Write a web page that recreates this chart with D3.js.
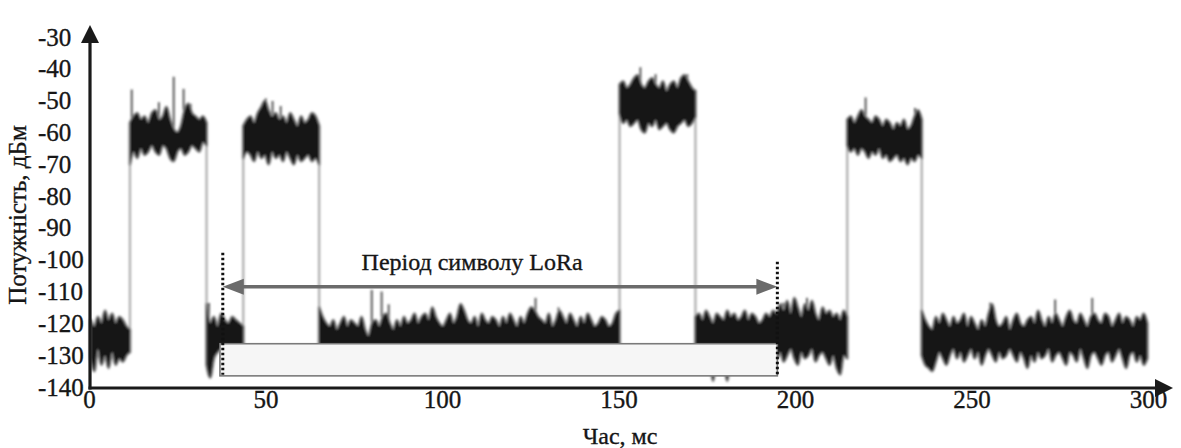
<!DOCTYPE html>
<html>
<head>
<meta charset="utf-8">
<script src="https://cdn.jsdelivr.net/npm/d3@7"></script>
<style>
  body { margin: 0; background: #fff; }
  svg text { font-family: "Liberation Serif", "Tinos", "Times New Roman", "DejaVu Serif", serif; fill: #161616; stroke: #161616; stroke-width: 0.35px; }
</style>
</head>
<body>
<div id="graph"></div>
<script>
// axis ticks
const tickY = [-30, -40, -50, -60, -70, -80, -90, -100, -110, -120, -130, -140];
const tickX = [0, 50, 100, 150, 200, 250, 300];

// segment boundaries, ms (noise / burst / noise / ...)
const edges = [0.5, 11.6, 33.3, 43.7, 65.2, 150.3, 171.8, 214.8, 235.9, 299.8];

// envelope of the trace, dBm, one value per ~1 ms inside each segment
const noise1Hi = [-119, -121, -118, -120, -116, -119, -117, -120, -118, -119, -121, -122];
const noise1Lo = [-131, -135, -128, -133, -130, -134, -129, -133, -131, -132, -130, -129];

const burst1Hi = [-57, -55, -54, -56, -55, -57, -54, -53, -56, -55, -52, -56, -59, -60, -58, -53, -51, -54, -55, -56, -55, -57];
const burst1Lo = [-70, -66, -68, -65, -67, -66, -64, -66, -67, -64, -65, -68, -69, -66, -65, -67, -66, -64, -65, -66, -63, -64];

const noise2Hi = [-114, -120, -118, -121, -117, -119, -120, -118, -119, -120, -121];
const noise2Lo = [-133, -137, -131, -129, -128, -128, -129, -128, -128, -129, -128];

const burst2Hi = [-58, -56, -55, -57, -54, -52, -50, -53, -55, -54, -56, -55, -57, -54, -56, -58, -55, -57, -56, -54, -55, -58];
const burst2Lo = [-68, -66, -67, -69, -66, -68, -67, -70, -66, -68, -67, -69, -66, -68, -70, -67, -69, -68, -67, -69, -68, -70];

const noise3Hi = [
  -115, -118, -120, -121, -119, -122, -120, -118, -121, -119,
  -120, -121, -118, -122, -124, -120, -119, -121, -118, -117,
  -120, -122, -119, -121, -118, -120, -119, -117, -120, -118,
  -117, -119, -115, -118, -120, -121, -119, -117, -120, -118,
  -114, -116, -119, -120, -118, -121, -117, -119, -120, -118,
  -119, -121, -118, -120, -117, -119, -121, -118, -120, -117,
  -115, -116, -118, -119, -120, -117, -121, -119, -116, -118,
  -120, -117, -119, -121, -118, -120, -117, -119, -121, -120,
  -118, -119, -121, -120, -117, -116];
const noise3Lo = [
  -129, -130, -128, -131, -129, -130, -128, -129, -130, -131,
  -129, -128, -130, -131, -129, -130, -128, -129, -131, -130,
  -128, -129, -130, -131, -129, -128, -130, -129, -131, -130,
  -129, -128, -130, -129, -131, -130, -128, -129, -130, -131,
  -129, -130, -128, -129, -131, -130, -129, -128, -130, -131,
  -129, -130, -128, -131, -129, -130, -128, -129, -130, -131,
  -128, -129, -130, -131, -129, -130, -128, -129, -131, -130,
  -129, -128, -130, -129, -131, -130, -128, -129, -130, -131,
  -129, -130, -128, -129, -130, -129];

const burst3Hi = [-45, -44, -46, -45, -43, -42, -45, -46, -44, -43, -45, -46, -44, -47, -45, -44, -46, -43, -42, -44, -46, -47];
const burst3Lo = [-54, -57, -56, -58, -57, -56, -59, -60, -57, -58, -56, -59, -58, -57, -59, -60, -58, -57, -56, -58, -57, -55];

const noise4Hi = [
  -118, -117, -119, -116, -118, -120, -117, -118, -119, -116,
  -118, -117, -119, -118, -116, -119, -117, -118, -120, -119,
  -117, -118, -116, -117, -114, -116, -113, -117, -112, -115,
  -118, -114, -116, -113, -117, -119, -115, -117, -116, -118,
  -117, -119, -116, -118];
const noise4Lo = [
  -129, -130, -128, -130, -131, -138, -129, -130, -131, -138,
  -129, -130, -128, -131, -129, -130, -128, -129, -130, -131,
  -129, -128, -130, -131, -129, -132, -130, -128, -131, -133,
  -129, -131, -130, -128, -132, -130, -129, -131, -133, -130,
  -134, -136, -130, -131];

const burst4Hi = [-56, -55, -57, -55, -53, -55, -56, -57, -55, -56, -58, -56, -57, -59, -57, -58, -56, -59, -58, -55, -53, -56];
const burst4Lo = [-64, -66, -65, -67, -65, -66, -68, -66, -67, -65, -68, -67, -69, -68, -67, -69, -68, -70, -68, -69, -67, -68];

const noise5Hi = [
  -116, -119, -121, -122, -118, -120, -117, -119, -121, -118,
  -120, -119, -117, -121, -118, -120, -122, -119, -121, -117,
  -114, -119, -121, -120, -118, -122, -119, -117, -120, -121,
  -119, -118, -120, -116, -119, -121, -118, -120, -117, -119,
  -121, -118, -116, -119, -120, -117, -119, -121, -118, -117,
  -119, -120, -117, -118, -121, -119, -117, -120, -118, -119,
  -121, -118, -119, -117, -120];
const noise5Lo = [
  -130, -133, -134, -135, -132, -129, -131, -133, -130, -128,
  -131, -129, -132, -130, -128, -131, -129, -133, -130, -128,
  -130, -132, -129, -131, -130, -128, -130, -132, -129, -131,
  -134, -130, -132, -129, -131, -130, -128, -132, -130, -129,
  -131, -133, -129, -130, -132, -128, -131, -134, -130, -129,
  -131, -133, -130, -129, -132, -130, -128, -131, -134, -130,
  -129, -132, -130, -133, -131];

// thin spikes: time (ms) and peak (dBm)
const spikeT   = [12.1, 19.8, 24.0, 26.8, 28.8, 50.1, 52.0, 54.3, 34.0, 80.1, 82.9, 84.9, 126.5, 133.0,
                  156.2, 160.5, 169.5, 196.7, 203.4, 220.0, 234.0, 255.3, 273.7, 284.2];
const spikeTop = [-46.5, -50.5, -42.5, -46.3, -51, -49.3, -50.1, -51.7, -113.6, -109.5, -110, -114, -112, -115,
                  -39.5, -41.7, -41.7, -113.5, -112, -49, -52.3, -113.5, -112.5, -112];

// "symbol period" annotation
const periodStart = 37.9, periodEnd = 195;
const arrowLevel = -108.5;
const boxLeft = 37.1, boxTop = -126.4, boxBottom = -136.5;
const markTopLeft = -97.8, markTopRight = -100.6;
const periodLabel = "Період символу LoRa";

const W = 1181, H = 448;
const svg = d3.select("#graph").append("svg").attr("width", W).attr("height", H);

const x = d3.scaleLinear().domain([0, 300]).range([89, 1148]);
const y = d3.scaleLinear().domain([-140, -30]).range([387, 37]);

// blur to soften the scanned look
const defs = svg.append("defs");
defs.append("filter").attr("id", "soft").append("feGaussianBlur").attr("stdDeviation", 0.9);

const his = [noise1Hi, burst1Hi, noise2Hi, burst2Hi, noise3Hi, burst3Hi, noise4Hi, burst4Hi, noise5Hi];
const los = [noise1Lo, burst1Lo, noise2Lo, burst2Lo, noise3Lo, burst3Lo, noise4Lo, burst4Lo, noise5Lo];
const segments = his.map(function(hi, s) {
  const t0 = edges[s], t1 = edges[s + 1], n = hi.length;
  return hi.map(function(h, i) {
    return { t: t0 + (t1 - t0) * i / (n - 1), hi: h, lo: los[s][i] };
  });
});

// envelope top inside the segment that holds t
function hiAt(t) {
  const s = Math.max(0, Math.min(segments.length - 1, d3.bisectRight(edges, t) - 1));
  let best = segments[s][0];
  segments[s].forEach(function(d) {
    if (Math.abs(d.t - t) < Math.abs(best.t - t)) best = d;
  });
  return best.hi;
}

const trace = svg.append("g").attr("filter", "url(#soft)");

// gray vertical transitions: from the noise top up to the burst bottom
for (let s = 0; s < segments.length - 1; s++) {
  const a = segments[s], b = segments[s + 1];
  const endA = a[a.length - 1], startB = b[0];
  const noise = endA.hi < startB.hi ? endA : startB;
  const burst = noise === endA ? startB : endA;
  trace.append("line")
    .attr("x1", x(edges[s + 1])).attr("x2", x(edges[s + 1]))
    .attr("y1", y(noise.hi))
    .attr("y2", y(burst.lo))
    .attr("stroke", "#acacac")
    .attr("stroke-width", 2.2);
}

const area = d3.area()
  .curve(d3.curveMonotoneX)
  .x(function(d) { return x(d.t); })
  .y0(function(d) { return y(d.lo); })
  .y1(function(d) { return y(d.hi); });

trace.selectAll("line.spike")
  .data(spikeT)
  .enter().append("line")
  .attr("class", "spike")
  .attr("x1", function(t) { return x(t); })
  .attr("x2", function(t) { return x(t); })
  .attr("y1", function(t) { return y(hiAt(t)); })
  .attr("y2", function(t, i) { return y(spikeTop[i]); })
  .attr("stroke", "#5a5a5a")
  .attr("stroke-width", 2);

trace.selectAll("path.band")
  .data(segments)
  .enter().append("path")
  .attr("class", "band")
  .attr("d", area)
  .attr("fill", "#151515")
  .attr("stroke", "#8a8a8a")
  .attr("stroke-width", 3)
  .attr("paint-order", "stroke")
  .attr("stroke-linejoin", "round");

// light box over the lower noise
svg.append("rect")
  .attr("x", x(boxLeft))
  .attr("y", y(boxTop))
  .attr("width", x(periodEnd) - x(boxLeft))
  .attr("height", y(boxBottom) - y(boxTop))
  .attr("fill", "#f6f6f6")
  .attr("stroke", "#7a7a7a")
  .attr("stroke-width", 1.6);

// dotted markers of the period
[[periodStart, markTopLeft], [periodEnd, markTopRight]].forEach(function(m) {
  svg.append("line")
    .attr("x1", x(m[0])).attr("x2", x(m[0]))
    .attr("y1", y(m[1])).attr("y2", y(boxBottom) - 1)
    .attr("stroke", "#111")
    .attr("stroke-width", 3)
    .attr("stroke-dasharray", "2.5,2.5");
});

// double arrow
const ay = y(arrowLevel), ax1 = x(periodStart), ax2 = x(periodEnd);
svg.append("line")
  .attr("x1", ax1 + 10).attr("x2", ax2 - 10)
  .attr("y1", ay).attr("y2", ay)
  .attr("stroke", "#6b6b6b")
  .attr("stroke-width", 3.5);
svg.append("path")
  .attr("d", "M" + ax1 + "," + ay + "L" + (ax1 + 21) + "," + (ay - 8) + "L" + (ax1 + 21) + "," + (ay + 8) + "Z")
  .attr("fill", "#6b6b6b");
svg.append("path")
  .attr("d", "M" + ax2 + "," + ay + "L" + (ax2 - 21) + "," + (ay - 8) + "L" + (ax2 - 21) + "," + (ay + 8) + "Z")
  .attr("fill", "#6b6b6b");

svg.append("text")
  .attr("x", (ax1 + ax2) / 2 - 28)
  .attr("y", ay - 17)
  .attr("text-anchor", "middle")
  .style("font-size", "24px")
  .text(periodLabel);

// axes
const yAxis = svg.append("g")
  .attr("transform", "translate(" + x(0) + ",0)")
  .call(d3.axisLeft(y).tickValues(tickY).tickSize(0).tickFormat(function(d) { return String(d); }));
yAxis.attr("font-family", null).attr("font-size", null);
yAxis.select(".domain").remove();
yAxis.selectAll("text")
  .attr("x", 38 - x(0))
  .attr("text-anchor", "start")
  .style("font-size", "25px");

const xAxis = svg.append("g")
  .attr("transform", "translate(0," + y(-140) + ")")
  .call(d3.axisBottom(x).tickValues(tickX).tickSize(0).tickPadding(3).tickFormat(function(d) { return String(d); }));
xAxis.attr("font-family", null).attr("font-size", null);
xAxis.select(".domain").remove();
xAxis.selectAll("text")
  .style("font-size", "25px");

// axis lines with arrow heads
const ox = x(0) + 1, oy = y(-140) + 1;
svg.append("line")
  .attr("x1", ox).attr("x2", ox).attr("y1", oy + 1.5).attr("y2", y(-30) - 6)
  .attr("stroke", "#1a1a1a").attr("stroke-width", 3.2);
svg.append("path")
  .attr("d", "M" + ox + "," + (y(-30) - 12) + "L" + (ox - 9) + "," + (y(-30) + 6) + "L" + (ox + 9) + "," + (y(-30) + 6) + "Z")
  .attr("fill", "#1a1a1a");
svg.append("line")
  .attr("x1", ox - 1.5).attr("x2", x(300) + 12).attr("y1", oy).attr("y2", oy)
  .attr("stroke", "#1a1a1a").attr("stroke-width", 3.2);
svg.append("path")
  .attr("d", "M" + (x(300) + 25) + "," + oy + "L" + (x(300) + 7) + "," + (oy - 9) + "L" + (x(300) + 7) + "," + (oy + 9) + "Z")
  .attr("fill", "#1a1a1a");

// axis titles
svg.append("text")
  .attr("transform", "translate(26,215) rotate(-90)")
  .attr("text-anchor", "middle")
  .style("font-size", "25px")
  .text("Потужність, дБм");

svg.append("text")
  .attr("x", 620)
  .attr("y", 444)
  .attr("text-anchor", "middle")
  .style("font-size", "24px")
  .text("Час, мс");
</script>
</body>
</html>
